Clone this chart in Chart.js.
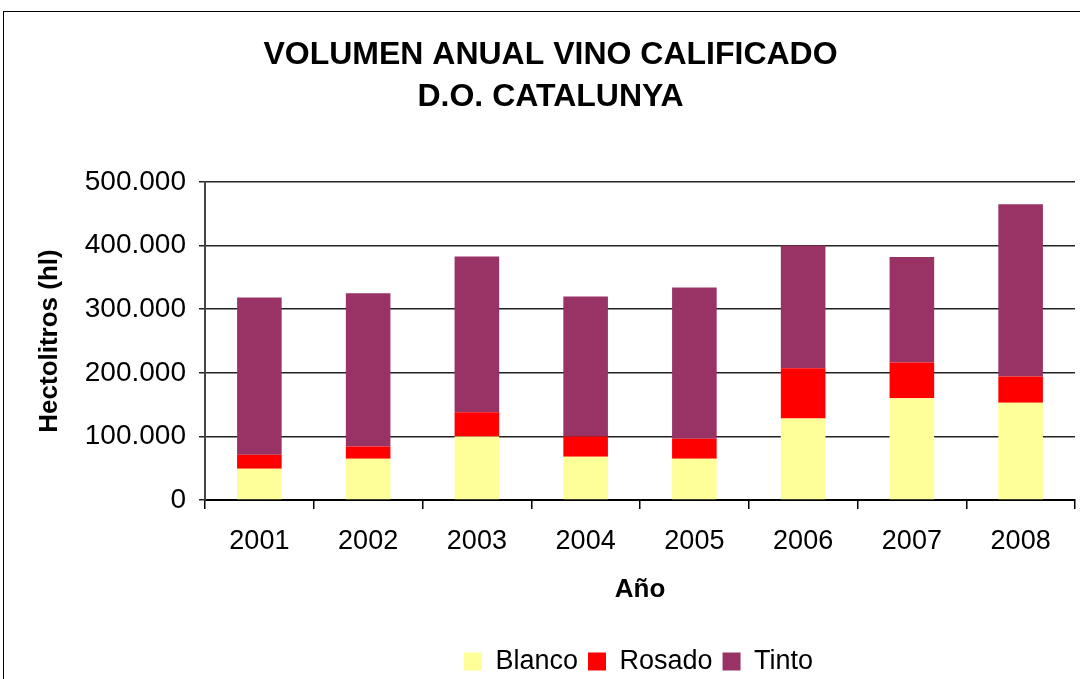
<!DOCTYPE html>
<html>
<head>
<meta charset="utf-8">
<script src="https://cdn.jsdelivr.net/npm/chart.js@4.4.1/dist/chart.umd.min.js"></script>
<style>
  html, body { margin: 0; padding: 0; background: #fff; }
  #wrap { position: relative; width: 1080px; height: 679px; }
</style>
</head>
<body>
<div id="wrap"><canvas id="chart"></canvas></div>
<script>
// --- datos ---
const years = ['2001', '2002', '2003', '2004', '2005', '2006', '2007', '2008'];
const blanco = [49000, 65000, 100000, 68000, 65000, 128000, 160000, 153000];
const rosado = [22000, 19000, 38000, 32000, 31500, 79000, 56000, 41000];
const tinto = [247500, 241000, 245000, 220000, 237500, 193000, 166000, 271000];
const yTicks = [0, 100000, 200000, 300000, 400000, 500000];

const FONT = "'Liberation Sans', Arial, sans-serif";
Chart.defaults.font.family = FONT;
Chart.defaults.color = '#000';

// miles con punto: 100000 -> 100.000
function formatMiles(v) {
  if (v === 0) return '0';
  return String(v).replace(/\B(?=(\d{3})+(?!\d))/g, '.');
}

// marco exterior del gráfico + leyenda desplazada como en el original
const framePlugin = {
  id: 'frame',
  afterLayout(chart) {
    const lg = chart.legend;
    if (lg) { lg.left += 88; lg.right += 88; lg.top += 6; lg.bottom += 6; }
  },
  afterDraw(chart) {
    const ctx = chart.ctx;
    ctx.save();
    ctx.strokeStyle = '#000';
    ctx.lineWidth = 1;
    ctx.strokeRect(3.5, 11.5, 1200, 1000);
    ctx.restore();
  }
};

new Chart(document.getElementById('chart'), {
  type: 'bar',
  data: {
    labels: years,
    datasets: [
      { label: 'Blanco', data: blanco, backgroundColor: '#FFFF99' },
      { label: 'Rosado', data: rosado, backgroundColor: '#FF0000' },
      { label: 'Tinto', data: tinto, backgroundColor: '#993366' }
    ]
  },
  options: {
    responsive: true,
    maintainAspectRatio: false,
    animation: false,
    layout: { padding: { top: 0, left: 26, right: 5, bottom: 0 } },
    datasets: { bar: { barPercentage: 1, categoryPercentage: 0.41 } },
    scales: {
      x: {
        stacked: true,
        grid: { offset: true, drawOnChartArea: false, color: '#000', lineWidth: 1.5, tickLength: 9 },
        border: { color: '#000', width: 2 },
        ticks: { font: { size: 27 }, padding: 16 },
        title: { display: true, text: 'Año', font: { size: 26, weight: 'bold' }, padding: { top: 14, bottom: 27 } },
        afterFit(scale) { scale.height = 132; }
      },
      y: {
        stacked: true,
        min: 0,
        max: 500000,
        afterBuildTicks(scale) { scale.ticks = yTicks.map(v => ({ value: v })); },
        grid: { color: '#222', lineWidth: 1.5, tickLength: 6 },
        border: { color: '#444', width: 2 },
        ticks: { font: { size: 28 }, padding: 13, callback: v => formatMiles(v) },
        title: { display: true, text: 'Hectolitros (hl)', font: { size: 26, weight: 'bold' }, padding: { top: 8, bottom: 0 } },
        afterFit(scale) { scale.width = 179; }
      }
    },
    plugins: {
      title: {
        display: true,
        text: ['VOLUMEN ANUAL VINO CALIFICADO', 'D.O. CATALUNYA'],
        font: { size: 32, weight: 'bold', lineHeight: 1.3125 },
        color: '#000',
        padding: { top: 34, bottom: 64 }
      },
      legend: {
        position: 'bottom',
        labels: { font: { size: 27 }, boxWidth: 18, boxHeight: 18, padding: 10, color: '#000' }
      },
      tooltip: { enabled: false }
    }
  },
  plugins: [framePlugin]
});
</script>
</body>
</html>
